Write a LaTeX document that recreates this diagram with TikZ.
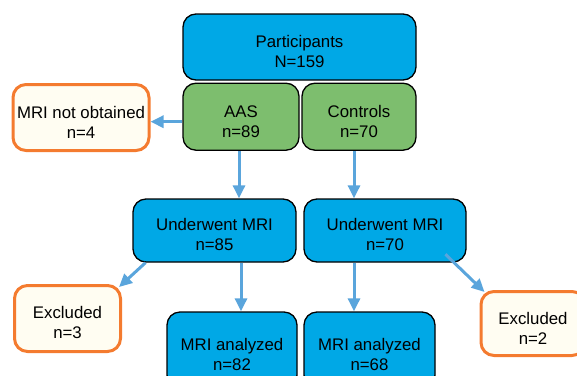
\documentclass[tikz,border=0pt]{standalone}
\usepackage{fontspec}
\setmainfont{Liberation Sans}
\usetikzlibrary{arrows.meta,calc}
\tikzset{>={Triangle[width=12pt,length=13pt]}}
\definecolor{b1}{HTML}{00A8E6}
\definecolor{g1}{HTML}{7DBE6E}
\definecolor{o1}{HTML}{F47B2F}
\definecolor{c1}{HTML}{FFFDF2}
\definecolor{a1}{HTML}{5AA5DC}
\newcommand\up{\rule{0pt}{21pt}}
\tikzset{
  box/.style={draw=black,line width=1.3pt,rounded corners=13pt,align=center,inner sep=0pt,
    font=\fontsize{16.8}{20}\selectfont},
  bbox/.style={box,fill=b1},
  gbox/.style={box,fill=g1},
  obox/.style={box,draw=o1,line width=3pt,fill=c1},
  arr/.style={->,a1,line width=3pt}
}

\begin{document}
\begin{tikzpicture}[x=1pt,y=-1pt]
  \clip (0,0) rectangle (577,375);
  % top
  \node[bbox,minimum width=233,minimum height=66] (part) at (299.5,47) {\up Participants\\N=159};
  \node[gbox,minimum width=116,minimum height=67] (aas) at (241,116.7) {\up AAS\\n=89};
  \node[gbox,minimum width=114,minimum height=67] (ctrl) at (359,116.7) {\up Controls\\n=70};
  \node[obox,minimum width=136,minimum height=66] (nomri) at (81,117.5) {\up MRI not obtained\\n=4};
  % middle
  \node[bbox,minimum width=163,minimum height=63] (mria) at (214.5,230.5) {\up Underwent MRI\\n=85};
  \node[bbox,minimum width=162,minimum height=63] (mric) at (385,230.5) {\up Underwent MRI\\n=70};
  % bottom
  \node[obox,minimum width=106,minimum height=66] (excla) at (67.5,318.5) {\up Excluded\\n=3};
  \node[bbox,minimum width=130,minimum height=76] (anaa) at (232,350) {\up MRI analyzed\\n=82};
  \node[bbox,minimum width=131,minimum height=76] (anac) at (369.5,350) {\up MRI analyzed\\n=68};
  \node[obox,minimum width=104,minimum height=64] (exclc) at (533,323.5) {\up Excluded\\n=2};
  % arrows
  \coordinate (ca) at (239,0);
  \coordinate (cc) at (354,0);
  \draw[arr] ([yshift=-5pt]aas.west) -- ([yshift=-5pt]aas.west -| nomri.east);
  \draw[arr] (ca |- aas.south) -- (ca |- mria.north);
  \draw[arr] (cc |- ctrl.south) -- (cc |- mric.north);
  \draw[arr] ([xshift=2pt]ca |- mria.south) -- ([xshift=2pt]ca |- anaa.north);
  \draw[arr] (cc |- mric.south) -- (cc |- anac.north);
  \draw[arr] (mria.205) -- ($(excla.north east)+(-3,3)$);
  \draw[arr] ($(mric)!0.74!(mric.south east)$) -- ($(exclc.north west)+(5,2)$);
\end{tikzpicture}
\end{document}
